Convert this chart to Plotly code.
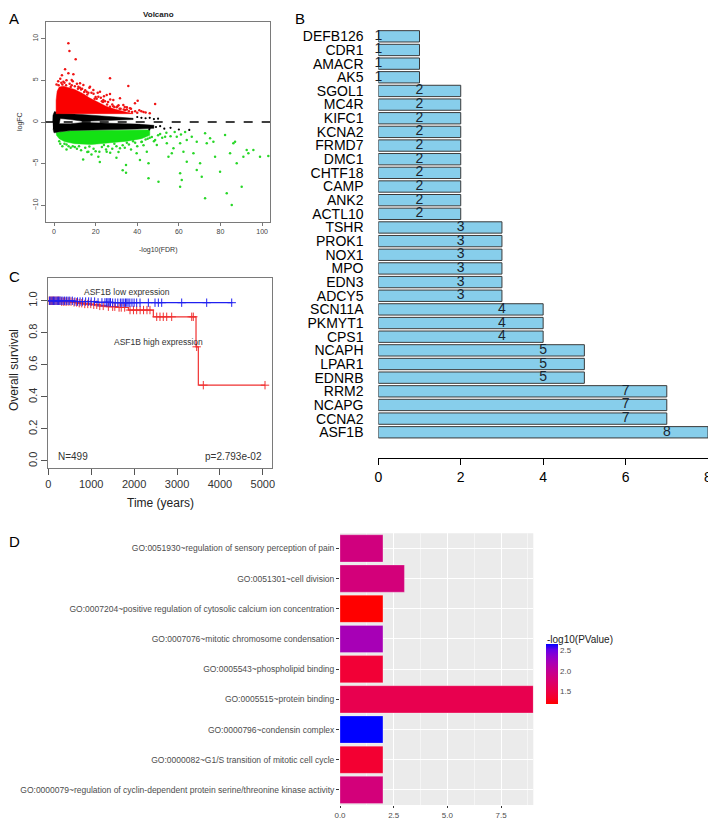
import numpy as np
import plotly.graph_objects as go

# the page body has an 8px margin, so the figure is drawn at (8, 8)
OX, OY = 8, 8
FW, FH = 708, 812
def px(x): return (x - OX) / FW
def py(y): return 1 - (y - OY) / FH

FONT = "Liberation Sans, Arial, sans-serif"

# ---------------- Panel A : volcano ----------------
# dense regions (outlines)
red_region_x = [1.0, 1.0, 1.5, 2.5, 4.5, 7, 10, 14, 17, 21, 25, 29, 33, 36, 38, 38, 1.0]
red_region_y = [1.0, 2.6, 3.7, 4.2, 4.3, 4.1, 3.9, 3.4, 2.9, 2.4, 1.9, 1.55, 1.25, 1.1, 1.02, 1.0, 1.0]
black_region_x = [-0.6, -0.5, 0.2, 3, 8, 16, 25, 32, 38, 38, 25, 14, 8, 3, 2.5, 8, 14, 25, 40, 48,
                  48, 40, 30, 18, 8, 2, 0, -0.5]
black_region_y = [0.0, 0.8, 1.25, 1.05, 1.0, 0.85, 0.68, 0.55, 0.45, 0.3, 0.2, 0.08, 0.3, 0.42, -0.2,
                  -0.2, -0.05, -0.12, -0.25, -0.4, -0.75, -0.85, -0.92, -0.98, -1.02, -1.2, -1.3, -0.8]
green_region_x = [1.0, 8, 18, 30, 40, 46, 46, 42, 35, 27, 18, 10, 5, 2.5, 1.2, 1.0]
green_region_y = [-1.25, -1.05, -1.02, -0.98, -0.9, -0.95, -1.6, -2.0, -2.3, -2.5, -2.7, -2.6, -2.35, -2.0, -1.6, -1.25]

red_x = [6.9, 7.4, 10.4, 5.3, 6.9, 9.3, 26.9, 35.7, 40.2, 48.6, 4.5, 8.5, 12.5, 14.1, 17.3, 18.9,
         22.1, 25.3, 26.9, 28.5, 31.7, 33.3, 35.0, 36.5, 30.1, 38.9, 34.1, 26.9, 23.7, 21.3, 15.7,
         11.7, 1.2, 2.0, 3.0, 3.5, 5.0, 6.0, 7.5, 8.5, 10.0, 11.0, 12.5, 13.0, 15.0, 16.5, 17.0,
         19.0, 20.0, 21.0, 22.5, 23.5, 24.0, 26.0, 27.0, 28.0, 29.0, 31.0, 32.0, 34.0, 35.0, 36.0,
         37.0, 39.0, 40.0, 42.0, 44.0, 46.0, 3.8, 9.0, 13.5, 18.0, 20.5, 24.5, 30.5,
         2.2, 4.0, 5.8, 8.0, 11.5, 14.5, 16.0, 19.5, 23.0, 25.5, 28.5, 31.5, 33.5, 37.5, 41.0, 43.0]
red_y = [9.44, 8.52, 7.52, 6.32, 5.84, 5.72, 5.24, 4.32, 2.56, 2.16, 4.84, 5.04, 4.64, 4.44, 4.24, 3.84,
         3.64, 3.24, 3.36, 2.64, 2.84, 2.04, 1.76, 1.64, 1.76, 2.24, 1.44, 1.84, 2.64, 3.04, 3.64,
         4.24, 4.5, 4.9, 5.2, 4.7, 4.7, 5.0, 4.6, 4.4, 4.3, 4.6, 4.1, 3.9, 3.8, 3.5, 4.1,
         3.4, 3.0, 3.5, 2.9, 2.4, 3.1, 2.4, 2.7, 2.1, 1.8, 2.0, 1.6, 1.8, 1.5, 1.3,
         1.6, 1.3, 1.1, 1.3, 1.15, 1.05, 5.6, 4.9, 4.0, 3.5, 2.8, 2.5, 1.9,
         4.4, 4.5, 4.4, 4.2, 4.0, 3.6, 3.3, 2.8, 2.5, 2.1, 1.9, 1.6, 1.5, 1.2, 1.4, 1.2]
green_x = [16.5, 21.8, 21.3, 25.3, 31.7, 34.6, 34.6, 39.7, 41.3, 42.2, 44.6, 45.4, 45.4, 48.6, 49.4,
           50.2, 51.0, 53.4, 54.2, 55.0, 56.6, 57.4, 59.0, 60.6, 60.6, 61.4, 60.6, 62.2, 63.8, 63.8,
           66.2, 67.0, 68.6, 68.6, 70.2, 71.0, 72.6, 72.6, 73.4, 75.0, 76.6, 77.4, 79.8, 82.2, 83.0,
           84.6, 85.4, 86.2, 87.0, 87.8, 90.2, 91.0, 92.6, 93.4, 95.8, 99.0, 103.0,
           3, 4, 6, 8, 9, 11, 12, 13, 15, 16, 19, 20, 23, 25, 26, 28, 30, 31, 33, 34, 36, 37, 39, 40,
           42, 43, 45, 47, 48, 50, 52, 54, 56, 58, 61, 63, 10, 14, 22, 30, 33, 6, 18, 27,
           2.5, 5, 7, 17, 24, 29, 35, 38, 44, 46]
green_y = [-3.56, -3.56, -4.16, -3.56, -3.16, -5.16, -6.08, -3.76, -4.56, -2.36, -3.56, -4.96, -6.76, -2.16, -2.76,
           -7.16, -1.44, -1.76, -2.56, -4.16, -3.76, -3.16, -1.76, -2.56, -6.16, -6.96, -7.76, -3.56, -2.16, -4.76,
           -1.76, -3.76, -2.36, -5.76, -4.96, -6.56, -1.36, -9.16, -2.56, -1.96, -2.36, -4.16, -5.96, -1.56, -8.56,
           -3.76, -9.96, -2.56, -2.36, -4.96, -7.76, -4.16, -3.36, -3.76, -3.36, -4.16, -4.08,
           -2.6, -2.9, -2.7, -3.1, -2.9, -3.2, -2.9, -3.4, -3.1, -3.6, -3.2, -3.5, -3.0, -3.3, -2.9, -3.2, -2.9, -3.6,
           -2.8, -3.1, -2.7, -3.3, -2.5, -2.9, -2.4, -2.8, -2.0, -1.8, -2.3, -1.6, -1.9, -1.3, -1.7, -1.2, -1.5, -1.2,
           -3.0, -4.5, -4.8, -4.3, -5.8, -3.3, -3.9, -3.7,
           -2.3, -2.6, -2.9, -2.95, -2.75, -2.6, -2.5, -2.3, -2.1, -1.9]
black_x = [40, 42, 44, 46, 48, 50, 41, 44, 46, 49, 51, 53, 56, 60, 65, 45.8]
black_y = [0.6, 0.5, 0.45, 0.5, 0.35, 0.4, -0.4, -0.5, -0.7, -0.6, -0.5, -0.8, -0.7, -0.9, -0.95, -0.88]

# ---------------- Panel B : gene counts ----------------
genes = ["DEFB126", "CDR1", "AMACR", "AK5", "SGOL1", "MC4R", "KIFC1", "KCNA2", "FRMD7", "DMC1",
         "CHTF18", "CAMP", "ANK2", "ACTL10", "TSHR", "PROK1", "NOX1", "MPO", "EDN3", "ADCY5",
         "SCN11A", "PKMYT1", "CPS1", "NCAPH", "LPAR1", "EDNRB", "RRM2", "NCAPG", "CCNA2", "ASF1B"]
gene_counts = [1, 1, 1, 1, 2, 2, 2, 2, 2, 2, 2, 2, 2, 2, 3, 3, 3, 3, 3, 3, 4, 4, 4, 5, 5, 5, 7, 7, 7, 8]

# ---------------- Panel C : survival ----------------
high_t = [0, 300, 583, 700, 817, 1000, 1200, 1360, 1600, 1866, 2448, 3443, 3497, 5051]
high_s = [1.0, 0.995, 0.99, 0.985, 0.98, 0.975, 0.968, 0.963, 0.958, 0.942, 0.90, 0.7125, 0.473, 0.473]
low_t = [0, 600, 1100, 1500, 4290]
low_s = [1.0, 0.995, 0.99, 0.988, 0.988]
high_cens = [20, 45, 70, 95, 120, 150, 180, 210, 240, 270, 310, 350, 390, 430, 480, 530, 600, 660, 720,
             780, 850, 920, 990, 1060, 1130, 1200, 1280, 1400, 1500, 1550, 1650, 1700, 1780, 1905, 1985,
             2060, 2140, 2220, 2300, 2370, 2527, 2603, 2680, 2760, 2876, 3343, 3380, 3458, 3613, 5051]
low_cens = [30, 60, 90, 120, 150, 180, 210, 240, 270, 300, 340, 380, 420, 460, 500, 560, 620, 680, 740,
            800, 870, 940, 1000, 1080, 1160, 1250, 1320, 1360, 1390, 1420, 1450, 1500, 1560, 1620, 1680,
            1720, 1760, 1800, 1830, 1860, 1900, 1950, 2000, 2060, 2138, 2332, 2487, 2565, 2643, 3109,
            3692, 4275]

# ---------------- Panel D : GO terms ----------------
go_terms = ["GO:0000079~regulation of cyclin-dependent protein serine/threonine kinase activity",
            "GO:0000082~G1/S transition of mitotic cell cycle",
            "GO:0000796~condensin complex",
            "GO:0005515~protein binding",
            "GO:0005543~phospholipid binding",
            "GO:0007076~mitotic chromosome condensation",
            "GO:0007204~positive regulation of cytosolic calcium ion concentration",
            "GO:0051301~cell division",
            "GO:0051930~regulation of sensory perception of pain"]
go_counts = [2, 2, 2, 9, 2, 2, 2, 3, 2]
go_logp = [1.82, 1.38, 2.64, 1.55, 1.40, 2.20, 1.19, 1.82, 1.85]
cbar_ticks = [1.5, 2.0, 2.5]


# ---- Lab-space red->blue gradient (ggplot style) ----
_M = np.array([[0.4124, 0.3576, 0.1805], [0.2126, 0.7152, 0.0722], [0.0193, 0.1192, 0.9505]])
_WHITE = _M @ np.ones(3)
def _f(t):
    return np.where(t > (6 / 29) ** 3, np.cbrt(t), t / (3 * (6 / 29) ** 2) + 4 / 29)
def _finv(t):
    return np.where(t > 6 / 29, t ** 3, 3 * (6 / 29) ** 2 * (t - 4 / 29))
def rgb2lab(rgb):
    c = np.array(rgb) / 255.0
    lin = np.where(c <= 0.04045, c / 12.92, ((c + 0.055) / 1.055) ** 2.4)
    fx, fy, fz = _f((_M @ lin) / _WHITE)
    return np.array([116 * fy - 16, 500 * (fx - fy), 200 * (fy - fz)])
def lab2rgb(lab):
    L, a, b = lab
    fy = (L + 16) / 116
    xyz = _finv(np.array([fy + a / 500, fy, fy - b / 200])) * _WHITE
    lin = np.clip(np.linalg.inv(_M) @ xyz, 0, 1)
    c = np.where(lin <= 0.0031308, 12.92 * lin, 1.055 * lin ** (1 / 2.4) - 0.055)
    r, g, bb = np.clip(np.round(c * 255), 0, 255).astype(int)
    return f"rgb({r},{g},{bb})"
_lr, _lb = rgb2lab([255, 0, 0]), rgb2lab([0, 0, 255])
colorscale = [[t, lab2rgb(_lr + (_lb - _lr) * t)] for t in np.linspace(0, 1, 11)]

fig = go.Figure()

# ---- Panel A traces ----
fig.add_trace(go.Scatter(x=green_region_x, y=green_region_y, fill="toself", fillcolor="rgb(20,225,20)",
                         mode="lines", line=dict(width=0.5, color="rgb(20,225,20)"), xaxis="x", yaxis="y",
                         hoverinfo="skip"))
fig.add_trace(go.Scatter(x=black_region_x, y=black_region_y, fill="toself", fillcolor="black",
                         mode="lines", line=dict(width=0.5, color="black"), xaxis="x", yaxis="y", hoverinfo="skip"))
fig.add_trace(go.Scatter(x=red_region_x, y=red_region_y, fill="toself", fillcolor="rgb(250,0,0)",
                         mode="lines", line=dict(width=0.5, color="rgb(250,0,0)"), xaxis="x", yaxis="y",
                         hoverinfo="skip"))
fig.add_trace(go.Scatter(x=red_x, y=red_y, mode="markers", marker=dict(size=2.5, color="rgb(240,20,20)"),
                         xaxis="x", yaxis="y"))
fig.add_trace(go.Scatter(x=green_x, y=green_y, mode="markers", marker=dict(size=2.5, color="rgb(40,215,40)"),
                         xaxis="x", yaxis="y"))
fig.add_trace(go.Scatter(x=black_x, y=black_y, mode="markers", marker=dict(size=2.2, color="black"),
                         xaxis="x", yaxis="y"))

# ---- Panel B traces ----
fig.add_trace(go.Bar(x=gene_counts, y=genes, orientation="h", width=0.83,
                     marker=dict(color="#87CEEB", line=dict(color="#3a3a3a", width=1)),
                     xaxis="x2", yaxis="y2"))
fig.add_trace(go.Scatter(x=[v - 1 for v in gene_counts], y=genes, mode="text",
                         text=[str(v) for v in gene_counts],
                         textfont=dict(size=14, color="#1a2530", family=FONT), cliponaxis=False,
                         xaxis="x2", yaxis="y2"))

# ---- Panel C traces ----
def step_at(times, surv, t):
    idx = np.searchsorted(np.array(times), np.array(t), side="right") - 1
    return [float(v) for v in np.array(surv)[idx]]

fig.add_trace(go.Scatter(x=low_t, y=low_s, mode="lines", line=dict(shape="hv", color="#2020f0", width=1.2),
                         xaxis="x3", yaxis="y3"))
fig.add_trace(go.Scatter(x=high_t, y=high_s, mode="lines", line=dict(shape="hv", color="#f03030", width=1.2),
                         xaxis="x3", yaxis="y3"))
fig.add_trace(go.Scatter(x=high_cens, y=step_at(high_t, high_s, high_cens), mode="markers",
                         marker=dict(symbol="cross-thin", size=6, line=dict(width=1, color="#f03030")),
                         xaxis="x3", yaxis="y3"))
fig.add_trace(go.Scatter(x=low_cens, y=step_at(low_t, low_s, low_cens), mode="markers",
                         marker=dict(symbol="cross-thin", size=6, line=dict(width=1, color="#2020f0")),
                         xaxis="x3", yaxis="y3"))

# ---- Panel D traces ----
fig.add_trace(go.Bar(x=go_counts, y=go_terms, orientation="h", width=0.9,
                     marker=dict(color=go_logp, colorscale=colorscale,
                                 line=dict(color="rgba(255,255,255,0.5)", width=0.5),
                                 colorbar=dict(x=px(545.7), xanchor="left", y=py(674.3), yanchor="middle",
                                               thickness=12, len=60, lenmode="pixels", outlinewidth=0,
                                               ypad=0, xpad=0,
                                               tickvals=cbar_ticks, ticktext=["1.5", "2.0", "2.5"],
                                               tickfont=dict(size=8, color="#4D4D4D", family=FONT))),
                     xaxis="x4", yaxis="y4"))

axis_line = dict(showline=True, linecolor="#7a7a7a", linewidth=1, mirror=True, showgrid=False, zeroline=False,
                 automargin=False)

fig.update_layout(
    width=FW, height=FH, margin=dict(l=0, r=0, t=0, b=0, pad=0, autoexpand=False), showlegend=False,
    paper_bgcolor="white", plot_bgcolor="rgba(0,0,0,0)", font=dict(family=FONT),
    # A
    xaxis=dict(domain=[px(45.7), px(270)], range=[-4.0, 103.8], anchor="y", tickvals=[0, 20, 40, 60, 80, 100],
               ticks="outside", ticklen=3, tickcolor="#777", tickfont=dict(size=7, color="#444"), **axis_line),
    yaxis=dict(domain=[py(222), py(21.7)], range=[-12.0, 12.04], anchor="x", tickvals=[-10, -5, 0, 5, 10],
               tickangle=-90, ticks="outside", ticklen=4, tickcolor="#777",
               tickfont=dict(size=7, color="#444"), **axis_line),
    # B
    xaxis2=dict(domain=[px(378.3), px(708)], range=[0, 8], anchor="free", position=py(458),
                tickvals=[0, 2, 4, 6, 8], ticks="outside", ticklen=6, tickcolor="black",
                showline=True, linecolor="black", linewidth=1, showgrid=False, zeroline=False,
                automargin=False, tickfont=dict(size=14, color="black")),
    yaxis2=dict(domain=[py(439.1), py(29.5)], range=[29.5, -0.5], anchor="x2", type="category",
                categoryorder="array", categoryarray=genes, tickmode="array", tickvals=genes,
                ticks="outside", ticklen=11, automargin=False,
                tickcolor="rgba(0,0,0,0)", showline=False, showgrid=False, zeroline=False,
                tickfont=dict(size=14, color="black")),
    # C
    xaxis3=dict(domain=[px(48), px(272)], range=[-7, 5214], anchor="y3",
                tickvals=[0, 1000, 2000, 3000, 4000, 5000], ticks="outside", ticklen=6, tickcolor="#555",
                tickfont=dict(size=11, color="#333"), **axis_line),
    yaxis3=dict(domain=[py(468), py(277.7)], range=[-0.044, 1.144], anchor="x3",
                tickvals=[0, 0.2, 0.4, 0.6, 0.8, 1.0], ticktext=["0.0", "0.2", "0.4", "0.6", "0.8", "1.0"],
                tickangle=-90, ticks="outside", ticklen=6, tickcolor="#555",
                tickfont=dict(size=11, color="#333"), **axis_line),
    # D
    xaxis4=dict(domain=[px(340), px(533.3)], range=[0, 9], anchor="y4", tickvals=[0, 2.5, 5, 7.5],
                ticktext=["0.0", "2.5", "5.0", "7.5"], ticks="outside", ticklen=2, tickcolor="#333",
                tickfont=dict(size=8, color="#4D4D4D"), showgrid=True, gridcolor="white", gridwidth=1,
                minor=dict(showgrid=True, gridcolor="#F5F5F5", gridwidth=0.5, tickvals=[1.25, 3.75, 6.25, 8.75]),
                zeroline=False, showline=False, automargin=False),
    yaxis4=dict(domain=[py(805), py(533.3)], range=[-0.5, 8.5], anchor="x4", type="category",
                categoryorder="array", categoryarray=go_terms, ticks="outside", ticklen=3, tickcolor="#333",
                tickfont=dict(size=8.5, color="#4D4D4D"), showgrid=True, gridcolor="white", gridwidth=1,
                zeroline=False, showline=False, automargin=False),
)

fig.add_shape(type="rect", xref="x4 domain", yref="y4 domain", x0=0, x1=1, y0=0, y1=1,
              fillcolor="#EBEBEB", line=dict(width=0), layer="below")
fig.add_shape(type="line", xref="x domain", yref="y", x0=0, x1=1, y0=0, y1=0,
              line=dict(color="black", width=1.5, dash="dash"))

def ann(text, x, y, size, xanchor="center", color="black", bold=False, angle=0):
    fig.add_annotation(text=f"<b>{text}</b>" if bold else text, x=px(x), y=py(y), xref="paper", yref="paper",
                       showarrow=False, xanchor=xanchor, yanchor="middle", textangle=angle,
                       font=dict(size=size, color=color, family=FONT))

ann("A", 14, 18, 15)
ann("B", 300, 18, 15)
ann("C", 14, 277, 15)
ann("D", 14, 541, 15)
ann("Volcano", 158, 14, 8, bold=True, color="#222")
ann("-log10(FDR)", 158, 250, 7, color="#333")
ann("logFC", 20, 122, 7, color="#333", angle=-90)
ann("Overall survival", 14, 370, 12, color="#222", angle=-90)
ann("Time (years)", 160, 503, 12, color="#222")
ann("ASF1B low expression", 81.7, 291.7, 8.5, xanchor="left", color="#333")
ann("ASF1B high expression", 112, 342, 8.5, xanchor="left", color="#333")
ann("N=499", 56, 456.7, 10, xanchor="left", color="#333")
ann("p=2.793e-02", 264, 456.7, 10, xanchor="right", color="#333")
ann("-log10(PValue)", 545, 639.5, 10, xanchor="left", color="#222")

fig.write_html("out.html")
